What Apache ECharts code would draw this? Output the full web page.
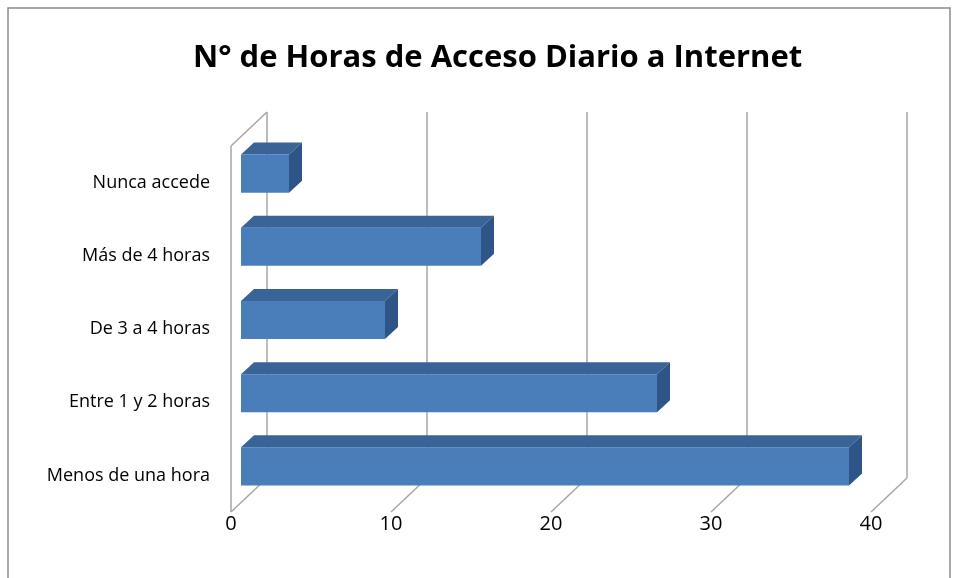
<!DOCTYPE html>
<html>
<head>
    <meta charset="utf-8">
    <title>ECharts</title>
    <script src="https://cdn.jsdelivr.net/npm/echarts@6/dist/echarts.min.js"></script>
</head>
<body style="margin:0;background:#fff;">
    <div id="main" style="width: 956px;height:578px;"></div>
    <script type="text/javascript">

    // datos
    var categories = ['Nunca accede', 'Más de 4 horas', 'De 3 a 4 horas', 'Entre 1 y 2 horas', 'Menos de una hora'];
    var values = [3, 15, 9, 26, 38];
    var xTicks = [0, 10, 20, 30, 40];

    // desplazamiento de profundidad (pared trasera) y del bloque 3D
    var wallDx = 36, wallDy = -34;
    var barOx = 10, barOy = -9;
    var barDx = 13, barDy = -12;

    var myChart = echarts.init(document.getElementById('main'));

    function renderWalls(params, api) {
        var cs = params.coordSys;
        var v = api.value(0);
        var x = api.coord([v, 0])[0];
        var yb = cs.y + cs.height;
        var style = {stroke: '#a6a6a6', lineWidth: 1.5};
        var children = [
            {type: 'line', shape: {x1: x, y1: yb, x2: x + wallDx, y2: yb + wallDy}, style: style},
            {type: 'line', shape: {x1: x + wallDx, y1: yb + wallDy, x2: x + wallDx, y2: cs.y + wallDy}, style: style}
        ];
        if (v === 0) {
            children.push({type: 'line', shape: {x1: x, y1: cs.y, x2: x, y2: yb}, style: style});
            children.push({type: 'line', shape: {x1: x, y1: cs.y, x2: x + wallDx, y2: cs.y + wallDy}, style: style});
        }
        return {type: 'group', children: children};
    }

    function renderBar(params, api) {
        var val = api.value(0);
        var cat = api.value(1);
        var start = api.coord([0, cat]);
        var end = api.coord([val, cat]);
        var h = api.size([0, 1])[1] * 0.52;
        var x0 = start[0] + barOx, x1 = end[0] + barOx;
        var yt = start[1] - h / 2 + barOy, yb = yt + h;
        return {
            type: 'group',
            children: [
                {type: 'rect', shape: {x: x0, y: yt, width: x1 - x0, height: h}, style: {fill: '#4a7ebb'}},
                {type: 'polygon', shape: {points: [[x0, yt], [x0 + barDx, yt + barDy], [x1 + barDx, yt + barDy], [x1, yt]]}, style: {fill: '#3a6497'}},
                {type: 'polygon', shape: {points: [[x1, yt], [x1 + barDx, yt + barDy], [x1 + barDx, yb + barDy], [x1, yb]]}, style: {fill: '#2d5587'}}
            ]
        };
    }

    var option = {
        backgroundColor: '#fff',
        animation: false,
        title: {
            text: 'N° de Horas de Acceso Diario a Internet',
            left: 188,
            top: 38,
            textStyle: {fontFamily: 'Open Sans', fontWeight: 'bold', fontSize: 31, color: '#000'}
        },
        graphic: [{
            type: 'rect',
            shape: {x: 8, y: 8, width: 942, height: 600},
            style: {fill: 'none', stroke: '#8c8c8c', lineWidth: 1.5},
            silent: true
        }],
        grid: {left: 231, top: 146, width: 640, height: 366},
        xAxis: {
            type: 'value',
            min: 0,
            max: 40,
            interval: 10,
            axisLine: {show: false},
            axisTick: {show: false},
            splitLine: {show: false},
            axisLabel: {fontFamily: 'Open Sans', fontSize: 20, color: '#000', margin: 2}
        },
        yAxis: {
            type: 'category',
            inverse: true,
            data: categories,
            axisLine: {show: false},
            axisTick: {show: false},
            splitLine: {show: false},
            axisLabel: {fontFamily: 'Open Sans', fontSize: 18, color: '#000', margin: 21}
        },
        series: [
            {
                type: 'custom',
                renderItem: renderWalls,
                data: xTicks.map(function (t) { return [t, 0]; }),
                z: 1
            },
            {
                type: 'custom',
                renderItem: renderBar,
                encode: {x: 0, y: 1},
                data: values.map(function (v, i) { return [v, i]; }),
                z: 2
            }
        ]
    };

    myChart.setOption(option);
    </script>
</body>
</html>
